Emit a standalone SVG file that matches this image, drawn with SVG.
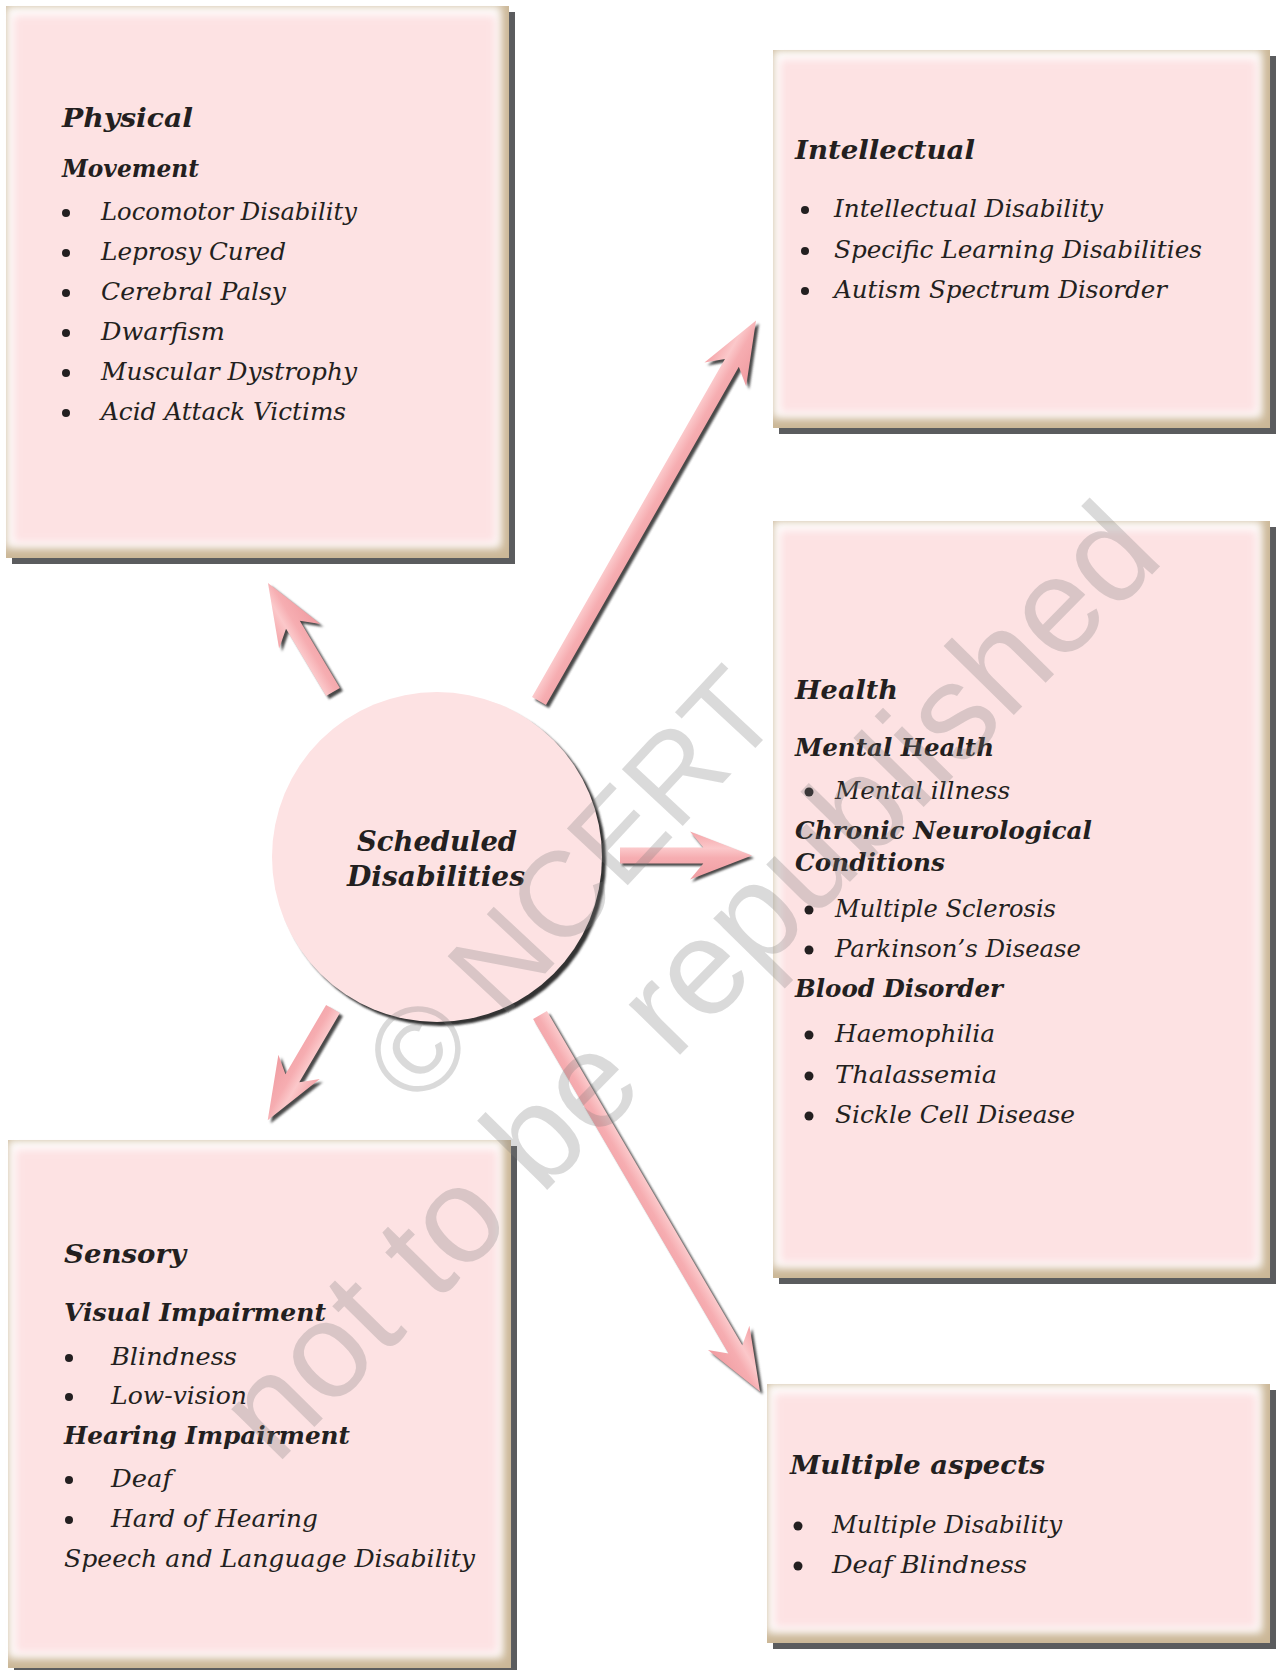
<svg xmlns="http://www.w3.org/2000/svg" xmlns:xlink="http://www.w3.org/1999/xlink" width="1276" height="1670" viewBox="0 0 1276 1670">
<style>
.h{font-family:"DejaVu Serif","Liberation Serif",serif;font-weight:bold;font-style:italic;font-size:26px;fill:#231f20}
.s{font-family:"DejaVu Serif","Liberation Serif",serif;font-weight:bold;font-style:italic;font-size:25px;fill:#231f20}
.i{font-family:"DejaVu Serif","Liberation Serif",serif;font-style:italic;font-size:24px;fill:#231f20}
.c{font-family:"DejaVu Serif","Liberation Serif",serif;font-weight:bold;font-style:italic;font-size:28px;fill:#231f20}
.b{fill:#231f20}
.shadow{fill:#5b5c5e}
.tan{fill:#cbb797}
.glow{fill:#ffffff}
.pink{fill:#fde2e3}
.ash{fill:#4a4a4a}
.apk{fill:url(#shaftGrad)}
.wm{font-family:"Liberation Sans",Arial,sans-serif;fill:#7a7a7a;opacity:0.27}
</style>
<defs>
<filter id="soft" x="-10%" y="-10%" width="120%" height="120%"><feGaussianBlur stdDeviation="4"/></filter>
<filter id="sblur" x="-10%" y="-10%" width="120%" height="120%"><feGaussianBlur stdDeviation="1.2"/></filter>
<linearGradient id="shaftGrad" x1="0" y1="0" x2="0" y2="1">
<stop offset="0" stop-color="#f5a4a8"/>
<stop offset="0.35" stop-color="#fbc8ca"/>
<stop offset="0.55" stop-color="#f6adb1"/>
<stop offset="1" stop-color="#f09ca1"/>
</linearGradient>
<path id="a1" d="M0,-8 H78.3 L65,-24 L127,0 L65,24 L78.3,8 H0 Z"/>
<path id="a2" d="M0,-8 H389.3 L376,-24 L438,0 L376,24 L389.3,8 H0 Z"/>
<path id="a3" d="M0,-8 H83.3 L70,-24 L132,0 L70,24 L83.3,8 H0 Z"/>
<path id="a4" d="M0,-8 H80.3 L67,-24 L129,0 L67,24 L80.3,8 H0 Z"/>
<path id="a5" d="M0,-8 H387.3 L374,-24 L436,0 L374,24 L387.3,8 H0 Z"/>
</defs>
<rect x="0" y="0" width="1276" height="1670" fill="#ffffff"/>

<g id="connectors">
<g id="arrow-physical">
<use xlink:href="#a1" class="ash" filter="url(#sblur)" transform="translate(336,695) rotate(-120.8)"/>
<use xlink:href="#a1" class="apk" transform="translate(333,692) rotate(-120.8)"/>
</g>
<g id="arrow-intellectual">
<use xlink:href="#a2" class="ash" filter="url(#sblur)" transform="translate(542,704) rotate(-60.3)"/>
<use xlink:href="#a2" class="apk" transform="translate(539,701) rotate(-60.3)"/>
</g>
<g id="arrow-health">
<use xlink:href="#a3" class="ash" filter="url(#sblur)" transform="translate(622,858)"/>
<use xlink:href="#a3" class="apk" transform="translate(620,855.5)"/>
</g>
<g id="arrow-sensory">
<use xlink:href="#a4" class="ash" filter="url(#sblur)" transform="translate(336,1012) rotate(120.4)"/>
<use xlink:href="#a4" class="apk" transform="translate(333,1009) rotate(120.4)"/>
</g>
<g id="arrow-multiple">
<use xlink:href="#a5" class="ash" filter="url(#sblur)" transform="translate(543,1018) rotate(59.7)"/>
<use xlink:href="#a5" class="apk" transform="translate(540,1015) rotate(59.7)"/>
</g>
</g>

<g id="node-center">
<circle cx="441" cy="861" r="165" fill="#333333" filter="url(#sblur)"/>
<circle cx="437" cy="857" r="165" class="pink"/>
<text class="c" x="357" y="851" textLength="160" lengthAdjust="spacingAndGlyphs">Scheduled</text>
<text class="c" x="347" y="886" textLength="178" lengthAdjust="spacingAndGlyphs">Disabilities</text>
</g>

<g id="node-physical">
<rect class="shadow" x="12" y="12" width="503" height="552"/>
<rect class="tan" x="6" y="6" width="503" height="552"/>
<rect class="glow" x="6" y="6" width="495" height="542" filter="url(#soft)"/>
<rect class="pink" x="13" y="15" width="483" height="528" filter="url(#soft)"/>
<text class="h" x="62" y="127" textLength="131" lengthAdjust="spacingAndGlyphs">Physical</text>
<text class="s" x="62" y="177" textLength="137" lengthAdjust="spacingAndGlyphs">Movement</text>
<circle class="b" cx="66" cy="213" r="4"/><text class="i" x="101" y="220" textLength="256" lengthAdjust="spacingAndGlyphs">Locomotor Disability</text>
<circle class="b" cx="66" cy="253" r="4"/><text class="i" x="101" y="260" textLength="185" lengthAdjust="spacingAndGlyphs">Leprosy Cured</text>
<circle class="b" cx="66" cy="293" r="4"/><text class="i" x="101" y="300" textLength="185" lengthAdjust="spacingAndGlyphs">Cerebral Palsy</text>
<circle class="b" cx="66" cy="333" r="4"/><text class="i" x="101" y="340" textLength="124" lengthAdjust="spacingAndGlyphs">Dwarfism</text>
<circle class="b" cx="66" cy="373" r="4"/><text class="i" x="101" y="380" textLength="256" lengthAdjust="spacingAndGlyphs">Muscular Dystrophy</text>
<circle class="b" cx="66" cy="413" r="4"/><text class="i" x="101" y="420" textLength="245" lengthAdjust="spacingAndGlyphs">Acid Attack Victims</text>
</g>

<g id="node-intellectual">
<rect class="shadow" x="779" y="56" width="497" height="378"/>
<rect class="tan" x="773" y="50" width="497" height="378"/>
<rect class="glow" x="773" y="50" width="489" height="368" filter="url(#soft)"/>
<rect class="pink" x="780" y="59" width="477" height="354" filter="url(#soft)"/>
<text class="h" x="795" y="159" textLength="180" lengthAdjust="spacingAndGlyphs">Intellectual</text>
<circle class="b" cx="805" cy="210" r="4"/><text class="i" x="834" y="217" textLength="269" lengthAdjust="spacingAndGlyphs">Intellectual Disability</text>
<circle class="b" cx="805" cy="251" r="4"/><text class="i" x="834" y="258" textLength="368" lengthAdjust="spacingAndGlyphs">Specific Learning Disabilities</text>
<circle class="b" cx="805" cy="291" r="4"/><text class="i" x="834" y="298" textLength="333" lengthAdjust="spacingAndGlyphs">Autism Spectrum Disorder</text>
</g>

<g id="node-health">
<rect class="shadow" x="779" y="527" width="497" height="757"/>
<rect class="tan" x="773" y="521" width="497" height="757"/>
<rect class="glow" x="773" y="521" width="489" height="747" filter="url(#soft)"/>
<rect class="pink" x="780" y="530" width="477" height="733" filter="url(#soft)"/>
<text class="h" x="795" y="699" textLength="103" lengthAdjust="spacingAndGlyphs">Health</text>
<text class="s" x="795" y="756" textLength="199" lengthAdjust="spacingAndGlyphs">Mental Health</text>
<circle class="b" cx="809" cy="792" r="4.5"/><text class="i" x="835" y="799" textLength="175" lengthAdjust="spacingAndGlyphs">Mental illness</text>
<text class="s" x="795" y="839" textLength="297" lengthAdjust="spacingAndGlyphs">Chronic Neurological</text>
<text class="s" x="795" y="871" textLength="150" lengthAdjust="spacingAndGlyphs">Conditions</text>
<circle class="b" cx="809" cy="910" r="4.5"/><text class="i" x="835" y="917" textLength="221" lengthAdjust="spacingAndGlyphs">Multiple Sclerosis</text>
<circle class="b" cx="809" cy="950" r="4.5"/><text class="i" x="835" y="957" textLength="246" lengthAdjust="spacingAndGlyphs">Parkinson’s Disease</text>
<text class="s" x="795" y="997" textLength="208" lengthAdjust="spacingAndGlyphs">Blood Disorder</text>
<circle class="b" cx="809" cy="1035" r="4.5"/><text class="i" x="835" y="1042" textLength="160" lengthAdjust="spacingAndGlyphs">Haemophilia</text>
<circle class="b" cx="809" cy="1076" r="4.5"/><text class="i" x="835" y="1083" textLength="162" lengthAdjust="spacingAndGlyphs">Thalassemia</text>
<circle class="b" cx="809" cy="1116" r="4.5"/><text class="i" x="835" y="1123" textLength="240" lengthAdjust="spacingAndGlyphs">Sickle Cell Disease</text>
</g>

<g id="node-sensory">
<rect class="shadow" x="14" y="1146" width="503" height="528"/>
<rect class="tan" x="8" y="1140" width="503" height="528"/>
<rect class="glow" x="8" y="1140" width="495" height="518" filter="url(#soft)"/>
<rect class="pink" x="15" y="1149" width="483" height="504" filter="url(#soft)"/>
<text class="h" x="64" y="1263" textLength="122" lengthAdjust="spacingAndGlyphs">Sensory</text>
<text class="s" x="64" y="1321" textLength="262" lengthAdjust="spacingAndGlyphs">Visual Impairment</text>
<circle class="b" cx="69" cy="1358" r="4"/><text class="i" x="111" y="1365" textLength="126" lengthAdjust="spacingAndGlyphs">Blindness</text>
<circle class="b" cx="69" cy="1397" r="4"/><text class="i" x="111" y="1404" textLength="136" lengthAdjust="spacingAndGlyphs">Low-vision</text>
<text class="s" x="64" y="1444" textLength="286" lengthAdjust="spacingAndGlyphs">Hearing Impairment</text>
<circle class="b" cx="69" cy="1480" r="4"/><text class="i" x="111" y="1487" textLength="61" lengthAdjust="spacingAndGlyphs">Deaf</text>
<circle class="b" cx="69" cy="1520" r="4"/><text class="i" x="111" y="1527" textLength="207" lengthAdjust="spacingAndGlyphs">Hard of Hearing</text>
<text class="i" x="64" y="1567" textLength="411" lengthAdjust="spacingAndGlyphs">Speech and Language Disability</text>
</g>

<g id="node-multiple">
<rect class="shadow" x="773" y="1390" width="503" height="259"/>
<rect class="tan" x="767" y="1384" width="503" height="259"/>
<rect class="glow" x="767" y="1384" width="495" height="249" filter="url(#soft)"/>
<rect class="pink" x="774" y="1393" width="483" height="235" filter="url(#soft)"/>
<text class="h" x="790" y="1474" textLength="255" lengthAdjust="spacingAndGlyphs">Multiple aspects</text>
<circle class="b" cx="798" cy="1526" r="4.5"/><text class="i" x="832" y="1533" textLength="230" lengthAdjust="spacingAndGlyphs">Multiple Disability</text>
<circle class="b" cx="798" cy="1566" r="4.5"/><text class="i" x="832" y="1573" textLength="195" lengthAdjust="spacingAndGlyphs">Deaf Blindness</text>
</g>

<g id="watermark">
<text class="wm" font-size="121" transform="translate(418,1110) rotate(-47)">© NCERT</text>
<text class="wm" font-size="136" transform="translate(276,1466) rotate(-45.5)">not to be republished</text>
</g>
</svg>
